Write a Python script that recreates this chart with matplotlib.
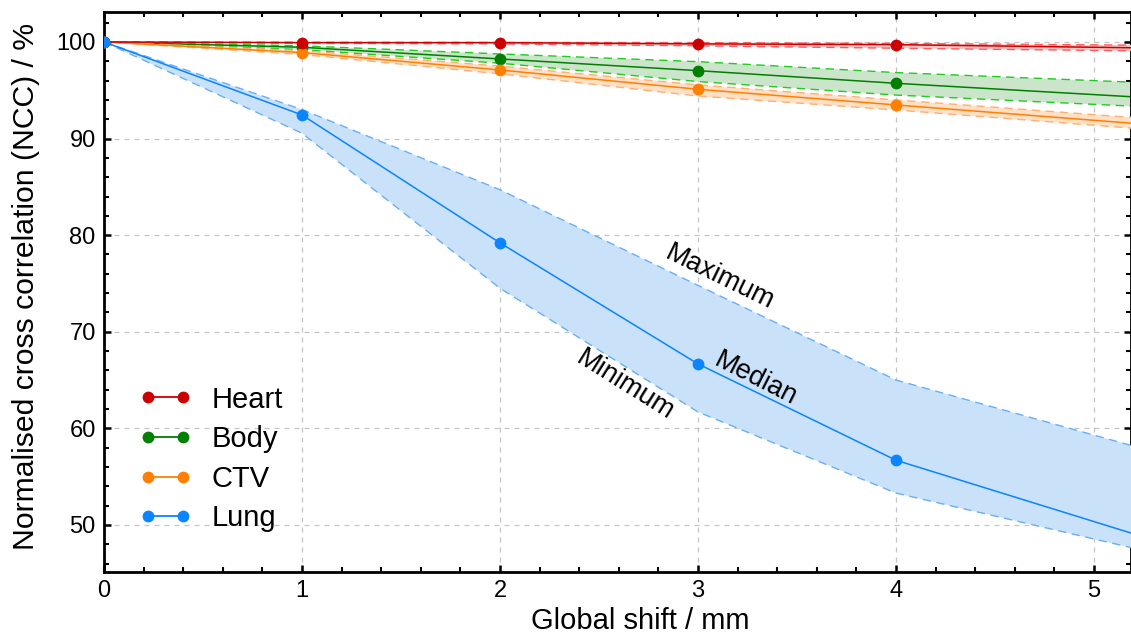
import matplotlib
matplotlib.use("Agg")
import matplotlib.pyplot as plt
from matplotlib.lines import Line2D
from matplotlib.ticker import MultipleLocator

plt.rcParams['font.family'] = ['Liberation Sans', 'DejaVu Sans']

# Global shift positions (mm)
shift = [0, 1, 2, 3, 4, 6]

# NCC (%) per structure: median, minimum, maximum
heart_med = [100, 99.93, 99.93, 99.80, 99.72, 99.18]
heart_min = [100, 99.85, 99.80, 99.60, 99.35, 98.90]
heart_max = [100, 99.97, 99.95, 99.93, 99.85, 99.55]

body_med = [100, 99.45, 98.24, 97.03, 95.72, 93.38]
body_min = [100, 99.20, 97.80, 95.90, 94.50, 92.58]
body_max = [100, 99.60, 98.76, 97.96, 96.83, 95.17]

ctv_med = [100, 98.90, 97.10, 95.10, 93.48, 90.30]
ctv_min = [100, 98.70, 96.70, 94.40, 92.96, 89.80]
ctv_max = [100, 99.10, 97.50, 95.55, 94.00, 90.95]

lung_med = [100, 92.44, 79.20, 66.67, 56.70, 44.00]
lung_min = [100, 90.55, 74.50, 61.70, 53.30, 43.80]
lung_max = [100, 93.00, 84.70, 74.80, 65.00, 53.60]

labels = ['Heart', 'Body', 'CTV', 'Lung']

styles = {
    'Heart': dict(line='#cc0000', edge='#ff5a5a', fill='#f6c4c4'),
    'Body': dict(line='#007f00', edge='#1fcc1f', fill='#cbe5cb'),
    'CTV': dict(line='#ff8000', edge='#ffb070', fill='#ffe0c6'),
    'Lung': dict(line='#0a84ff', edge='#6aaef5', fill='#c9e2fa'),
}
series = {
    'Heart': (heart_med, heart_min, heart_max),
    'Body': (body_med, body_min, body_max),
    'CTV': (ctv_med, ctv_min, ctv_max),
    'Lung': (lung_med, lung_min, lung_max),
}

fig = plt.figure(figsize=(11.31, 6.39), dpi=100)
W, H = 1131, 639
ax = fig.add_axes([104 / W, 1 - 572 / H, (1131 - 104) / W, (572 - 12) / H])

ax.set_xlim(0, 5.187)
ax.set_ylim(45.13, 103.1)

ax.grid(True, which='major', color='#c4c4c4', linestyle=(0, (4, 4)), linewidth=0.9)
ax.set_axisbelow(True)

draw_order = ['Body', 'CTV', 'Heart', 'Lung']
z = 2
for name in draw_order:
    med, lo, hi = series[name]
    st = styles[name]
    ax.fill_between(shift, lo, hi, color=st['fill'], linewidth=0, zorder=z)
    ax.plot(shift, lo, color=st['edge'], lw=1.0, ls=(0, (6, 4)), zorder=z + 0.1)
    ax.plot(shift, hi, color=st['edge'], lw=1.0, ls=(0, (6, 4)), zorder=z + 0.1)
    ax.plot(shift, med, color=st['line'], lw=1.1, zorder=z + 0.2)
    ax.plot(shift[:5], med[:5], ls='none', marker='o', ms=8.5, color=st['line'],
            mec='none', zorder=z + 0.3)
    z += 1

ax.xaxis.set_major_locator(MultipleLocator(1))
ax.xaxis.set_minor_locator(MultipleLocator(0.2))
ax.yaxis.set_major_locator(MultipleLocator(10))
ax.yaxis.set_minor_locator(MultipleLocator(2))
ax.tick_params(which='both', direction='in', top=True, right=True,
               labelsize=17, colors='black')
ax.tick_params(which='major', length=5, width=1.8, pad=6)
ax.tick_params(which='minor', length=3.5, width=1.5)
for sp in ax.spines.values():
    sp.set_linewidth(2.0)

ax.set_xlabel('Global shift / mm', fontsize=21)
ax.set_ylabel('Normalised cross correlation (NCC) / %', fontsize=21.7)
ax.xaxis.set_label_coords(0.522, -0.062)
ax.yaxis.set_label_coords(-0.062, 0.51)

# Curve annotations on the lung band
ann = dict(ha='center', va='center', rotation_mode='anchor', fontsize=19.5, zorder=20)
ax.text(3.11, 75.57, 'Maximum', rotation=-26, **ann)
ax.text(2.63, 64.49, 'Minimum', rotation=-32, **ann)
ax.text(3.29, 65.11, 'Median', rotation=-27, **ann)

handles = [Line2D([0], [0], color=styles[n]['line'], lw=1.3, marker='o', ms=8.5,
                  mec='none') for n in labels]
leg = ax.legend(handles, labels, loc='center left', frameon=False, fontsize=21,
                numpoints=2, handlelength=1.8, handletextpad=0.7,
                labelspacing=0.4, borderaxespad=0, borderpad=0.3,
                bbox_to_anchor=((130 - 104) / 1027, 1 - (459 - 12) / 560))
leg.set_zorder(20)

fig.savefig('out.png', dpi=100)
